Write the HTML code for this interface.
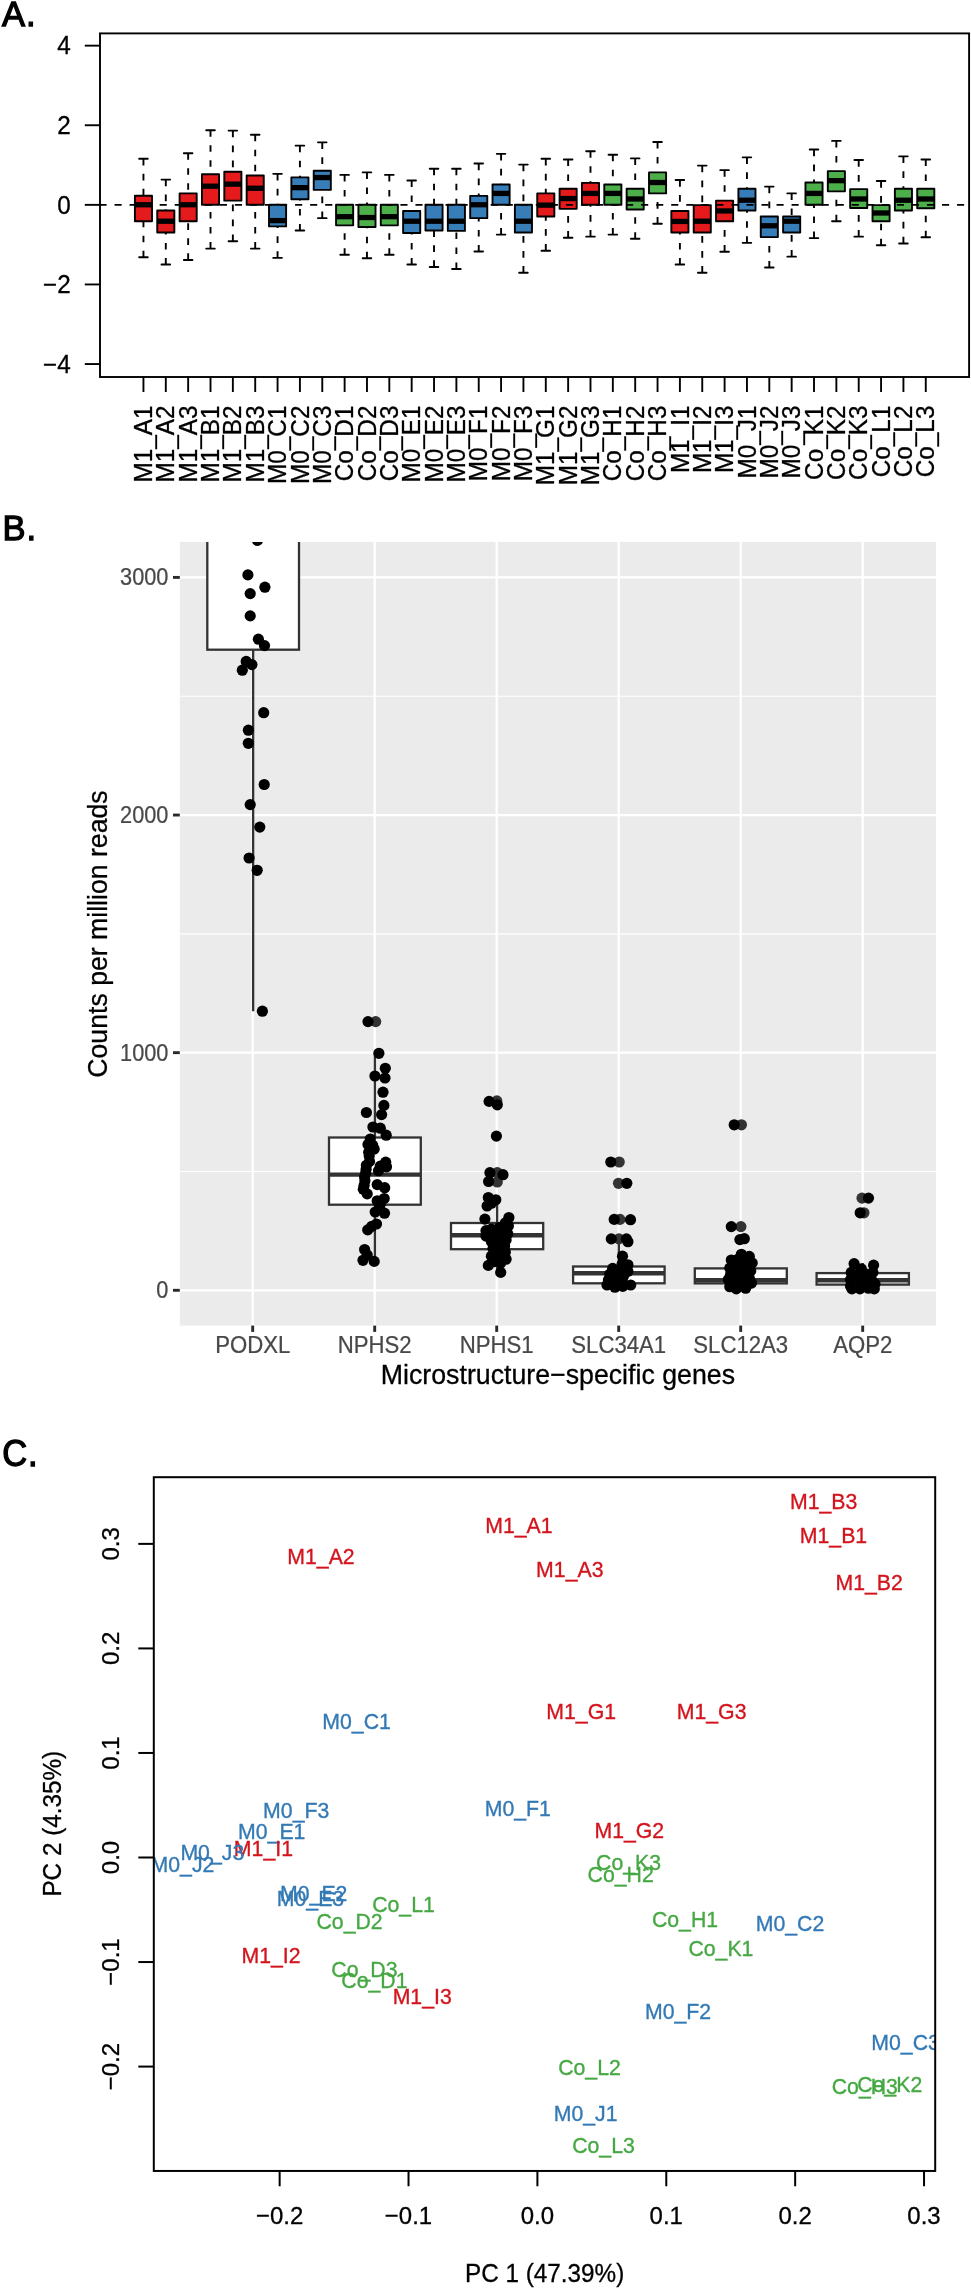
<!DOCTYPE html>
<html lang="en">
<head>
<meta charset="utf-8">
<title>Figure: normalisation boxplots, marker gene counts and PCA</title>
<style>
html,body{margin:0;padding:0;background:#fff;}
body{width:971px;height:2289px;overflow:hidden;}
svg{display:block;will-change:transform;}
#panelA>text,#panelC>text,#panelB>text.tt{stroke:#000;stroke-width:.3px;}
#panelB>text.tk{stroke:#484848;stroke-width:.25px;}
#panelA>text.pl,#panelB>text.pl,#panelC>text.pl{font-size:35.6px;stroke:#000;stroke-width:1.3px;letter-spacing:1px;stroke-linejoin:miter;}
</style>
</head>
<body>
<svg width="971" height="2289" viewBox="0 0 971 2289">
<rect width="971" height="2289" fill="#fff"/>
<g id="panelA" font-family='"Liberation Sans", Arial, Helvetica, sans-serif'>
<text class="pl" transform="translate(1.9 26.25) scale(0.97 1)">A.</text>
<g fill="none" stroke="#000" stroke-width="1.9"><path d="M143.45 158.82V195.68M143.45 257.27V221.23" stroke-dasharray="6.6 8.4"/><path d="M139.15 158.82h8.6M139.15 257.27h8.6" stroke-linecap="round"/><rect x="134.9" y="195.68" width="17.1" height="25.54" fill="#E41A1C" stroke-linejoin="round"/><path d="M134.9 204.75h17.1" stroke-width="5.3"/></g>
<g fill="none" stroke="#000" stroke-width="1.9"><path d="M165.8 179.62V210.51M165.8 264.48V232.55" stroke-dasharray="6.6 8.4"/><path d="M161.5 179.62h8.6M161.5 264.48h8.6" stroke-linecap="round"/><rect x="157.25" y="210.51" width="17.1" height="22.04" fill="#E41A1C" stroke-linejoin="round"/><path d="M157.25 221.23h17.1" stroke-width="5.3"/></g>
<g fill="none" stroke="#000" stroke-width="1.9"><path d="M188.15 153.25V193.42M188.15 259.95V221.23" stroke-dasharray="6.6 8.4"/><path d="M183.85 153.25h8.6M183.85 259.95h8.6" stroke-linecap="round"/><rect x="179.6" y="193.42" width="17.1" height="27.81" fill="#E41A1C" stroke-linejoin="round"/><path d="M179.6 204.75h17.1" stroke-width="5.3"/></g>
<g fill="none" stroke="#000" stroke-width="1.9"><path d="M210.51 130.19V174.26M210.51 248.62V204.75" stroke-dasharray="6.6 8.4"/><path d="M206.21 130.19h8.6M206.21 248.62h8.6" stroke-linecap="round"/><rect x="201.96" y="174.26" width="17.1" height="30.48" fill="#E41A1C" stroke-linejoin="round"/><path d="M201.96 186.21h17.1" stroke-width="5.3"/></g>
<g fill="none" stroke="#000" stroke-width="1.9"><path d="M232.86 130.6V171.79M232.86 241.2V200.63" stroke-dasharray="6.6 8.4"/><path d="M228.56 130.6h8.6M228.56 241.2h8.6" stroke-linecap="round"/><rect x="224.31" y="171.79" width="17.1" height="28.84" fill="#E41A1C" stroke-linejoin="round"/><path d="M224.31 184.15h17.1" stroke-width="5.3"/></g>
<g fill="none" stroke="#000" stroke-width="1.9"><path d="M255.21 134.72V175.5M255.21 248.62V204.75" stroke-dasharray="6.6 8.4"/><path d="M250.91 134.72h8.6M250.91 248.62h8.6" stroke-linecap="round"/><rect x="246.66" y="175.5" width="17.1" height="29.25" fill="#E41A1C" stroke-linejoin="round"/><path d="M246.66 188.27h17.1" stroke-width="5.3"/></g>
<g fill="none" stroke="#000" stroke-width="1.9"><path d="M277.56 173.85V204.75M277.56 257.89V226.37" stroke-dasharray="6.6 8.4"/><path d="M273.26 173.85h8.6M273.26 257.89h8.6" stroke-linecap="round"/><rect x="269.01" y="204.75" width="17.1" height="21.63" fill="#377EB8" stroke-linejoin="round"/><path d="M269.01 220.61h17.1" stroke-width="5.3"/></g>
<g fill="none" stroke="#000" stroke-width="1.9"><path d="M299.91 145.63V177.35M299.91 230.49V199.19" stroke-dasharray="6.6 8.4"/><path d="M295.61 145.63h8.6M295.61 230.49h8.6" stroke-linecap="round"/><rect x="291.36" y="177.35" width="17.1" height="21.83" fill="#377EB8" stroke-linejoin="round"/><path d="M291.36 187.65h17.1" stroke-width="5.3"/></g>
<g fill="none" stroke="#000" stroke-width="1.9"><path d="M322.27 142.34V170.76M322.27 218.14V189.92" stroke-dasharray="6.6 8.4"/><path d="M317.97 142.34h8.6M317.97 218.14h8.6" stroke-linecap="round"/><rect x="313.72" y="170.76" width="17.1" height="19.16" fill="#377EB8" stroke-linejoin="round"/><path d="M313.72 177.56h17.1" stroke-width="5.3"/></g>
<g fill="none" stroke="#000" stroke-width="1.9"><path d="M344.62 174.88V204.75M344.62 254.8V225.35" stroke-dasharray="6.6 8.4"/><path d="M340.32 174.88h8.6M340.32 254.8h8.6" stroke-linecap="round"/><rect x="336.07" y="204.75" width="17.1" height="20.6" fill="#4DAF4A" stroke-linejoin="round"/><path d="M336.07 216.69h17.1" stroke-width="5.3"/></g>
<g fill="none" stroke="#000" stroke-width="1.9"><path d="M366.97 172.41V204.75M366.97 258.3V226.99" stroke-dasharray="6.6 8.4"/><path d="M362.67 172.41h8.6M362.67 258.3h8.6" stroke-linecap="round"/><rect x="358.42" y="204.75" width="17.1" height="22.25" fill="#4DAF4A" stroke-linejoin="round"/><path d="M358.42 217.52h17.1" stroke-width="5.3"/></g>
<g fill="none" stroke="#000" stroke-width="1.9"><path d="M389.32 174.88V204.75M389.32 254.8V225.35" stroke-dasharray="6.6 8.4"/><path d="M385.02 174.88h8.6M385.02 254.8h8.6" stroke-linecap="round"/><rect x="380.77" y="204.75" width="17.1" height="20.6" fill="#4DAF4A" stroke-linejoin="round"/><path d="M380.77 216.69h17.1" stroke-width="5.3"/></g>
<g fill="none" stroke="#000" stroke-width="1.9"><path d="M411.67 180.44V210.93M411.67 264.48V232.97" stroke-dasharray="6.6 8.4"/><path d="M407.37 180.44h8.6M407.37 264.48h8.6" stroke-linecap="round"/><rect x="403.12" y="210.93" width="17.1" height="22.04" fill="#377EB8" stroke-linejoin="round"/><path d="M403.12 221.23h17.1" stroke-width="5.3"/></g>
<g fill="none" stroke="#000" stroke-width="1.9"><path d="M434.03 168.7V204.75M434.03 266.95V230.49" stroke-dasharray="6.6 8.4"/><path d="M429.73 168.7h8.6M429.73 266.95h8.6" stroke-linecap="round"/><rect x="425.48" y="204.75" width="17.1" height="25.75" fill="#377EB8" stroke-linejoin="round"/><path d="M425.48 221.23h17.1" stroke-width="5.3"/></g>
<g fill="none" stroke="#000" stroke-width="1.9"><path d="M456.38 168.7V204.75M456.38 269.01V230.91" stroke-dasharray="6.6 8.4"/><path d="M452.08 168.7h8.6M452.08 269.01h8.6" stroke-linecap="round"/><rect x="447.83" y="204.75" width="17.1" height="26.16" fill="#377EB8" stroke-linejoin="round"/><path d="M447.83 221.23h17.1" stroke-width="5.3"/></g>
<g fill="none" stroke="#000" stroke-width="1.9"><path d="M478.73 163.55V195.89M478.73 251.5V218.14" stroke-dasharray="6.6 8.4"/><path d="M474.43 163.55h8.6M474.43 251.5h8.6" stroke-linecap="round"/><rect x="470.18" y="195.89" width="17.1" height="22.25" fill="#377EB8" stroke-linejoin="round"/><path d="M470.18 204.75h17.1" stroke-width="5.3"/></g>
<g fill="none" stroke="#000" stroke-width="1.9"><path d="M501.08 153.87V184.56M501.08 234.61V204.75" stroke-dasharray="6.6 8.4"/><path d="M496.78 153.87h8.6M496.78 234.61h8.6" stroke-linecap="round"/><rect x="492.53" y="184.56" width="17.1" height="20.19" fill="#377EB8" stroke-linejoin="round"/><path d="M492.53 193.42h17.1" stroke-width="5.3"/></g>
<g fill="none" stroke="#000" stroke-width="1.9"><path d="M523.43 164.58V204.75M523.43 272.72V232.55" stroke-dasharray="6.6 8.4"/><path d="M519.13 164.58h8.6M519.13 272.72h8.6" stroke-linecap="round"/><rect x="514.88" y="204.75" width="17.1" height="27.81" fill="#377EB8" stroke-linejoin="round"/><path d="M514.88 221.23h17.1" stroke-width="5.3"/></g>
<g fill="none" stroke="#000" stroke-width="1.9"><path d="M545.79 158.82V193.42M545.79 250.68V216.49" stroke-dasharray="6.6 8.4"/><path d="M541.49 158.82h8.6M541.49 250.68h8.6" stroke-linecap="round"/><rect x="537.24" y="193.42" width="17.1" height="23.07" fill="#E41A1C" stroke-linejoin="round"/><path d="M537.24 205.16h17.1" stroke-width="5.3"/></g>
<g fill="none" stroke="#000" stroke-width="1.9"><path d="M568.14 159.43V188.68M568.14 237.7V208.87" stroke-dasharray="6.6 8.4"/><path d="M563.84 159.43h8.6M563.84 237.7h8.6" stroke-linecap="round"/><rect x="559.59" y="188.68" width="17.1" height="20.19" fill="#E41A1C" stroke-linejoin="round"/><path d="M559.59 198.57h17.1" stroke-width="5.3"/></g>
<g fill="none" stroke="#000" stroke-width="1.9"><path d="M590.49 151.19V182.91M590.49 236.67V204.75" stroke-dasharray="6.6 8.4"/><path d="M586.19 151.19h8.6M586.19 236.67h8.6" stroke-linecap="round"/><rect x="581.94" y="182.91" width="17.1" height="21.83" fill="#E41A1C" stroke-linejoin="round"/><path d="M581.94 193.42h17.1" stroke-width="5.3"/></g>
<g fill="none" stroke="#000" stroke-width="1.9"><path d="M612.84 154.7V184.56M612.84 234.61V204.75" stroke-dasharray="6.6 8.4"/><path d="M608.54 154.7h8.6M608.54 234.61h8.6" stroke-linecap="round"/><rect x="604.29" y="184.56" width="17.1" height="20.19" fill="#4DAF4A" stroke-linejoin="round"/><path d="M604.29 193.42h17.1" stroke-width="5.3"/></g>
<g fill="none" stroke="#000" stroke-width="1.9"><path d="M635.19 158.4V188.68M635.19 238.73V209.49" stroke-dasharray="6.6 8.4"/><path d="M630.89 158.4h8.6M630.89 238.73h8.6" stroke-linecap="round"/><rect x="626.64" y="188.68" width="17.1" height="20.8" fill="#4DAF4A" stroke-linejoin="round"/><path d="M626.64 198.98h17.1" stroke-width="5.3"/></g>
<g fill="none" stroke="#000" stroke-width="1.9"><path d="M657.55 141.93V172.41M657.55 223.7V193.42" stroke-dasharray="6.6 8.4"/><path d="M653.25 141.93h8.6M653.25 223.7h8.6" stroke-linecap="round"/><rect x="649" y="172.41" width="17.1" height="21.01" fill="#4DAF4A" stroke-linejoin="round"/><path d="M649 182.5h17.1" stroke-width="5.3"/></g>
<g fill="none" stroke="#000" stroke-width="1.9"><path d="M679.9 180.03V210.93M679.9 264.48V232.55" stroke-dasharray="6.6 8.4"/><path d="M675.6 180.03h8.6M675.6 264.48h8.6" stroke-linecap="round"/><rect x="671.35" y="210.93" width="17.1" height="21.63" fill="#E41A1C" stroke-linejoin="round"/><path d="M671.35 221.43h17.1" stroke-width="5.3"/></g>
<g fill="none" stroke="#000" stroke-width="1.9"><path d="M702.25 165.61V205.16M702.25 272.72V232.55" stroke-dasharray="6.6 8.4"/><path d="M697.95 165.61h8.6M697.95 272.72h8.6" stroke-linecap="round"/><rect x="693.7" y="205.16" width="17.1" height="27.39" fill="#E41A1C" stroke-linejoin="round"/><path d="M693.7 221.23h17.1" stroke-width="5.3"/></g>
<g fill="none" stroke="#000" stroke-width="1.9"><path d="M724.6 170.14V200.63M724.6 251.71V221.23" stroke-dasharray="6.6 8.4"/><path d="M720.3 170.14h8.6M720.3 251.71h8.6" stroke-linecap="round"/><rect x="716.05" y="200.63" width="17.1" height="20.6" fill="#E41A1C" stroke-linejoin="round"/><path d="M716.05 210.93h17.1" stroke-width="5.3"/></g>
<g fill="none" stroke="#000" stroke-width="1.9"><path d="M746.95 157.37V188.68M746.95 242.85V210.51" stroke-dasharray="6.6 8.4"/><path d="M742.65 157.37h8.6M742.65 242.85h8.6" stroke-linecap="round"/><rect x="738.4" y="188.68" width="17.1" height="21.83" fill="#377EB8" stroke-linejoin="round"/><path d="M738.4 200.22h17.1" stroke-width="5.3"/></g>
<g fill="none" stroke="#000" stroke-width="1.9"><path d="M769.31 186.62V216.49M769.31 267.57V237.09" stroke-dasharray="6.6 8.4"/><path d="M765.01 186.62h8.6M765.01 267.57h8.6" stroke-linecap="round"/><rect x="760.76" y="216.49" width="17.1" height="20.6" fill="#377EB8" stroke-linejoin="round"/><path d="M760.76 225.76h17.1" stroke-width="5.3"/></g>
<g fill="none" stroke="#000" stroke-width="1.9"><path d="M791.66 193.42V216.49M791.66 256.65V232.55" stroke-dasharray="6.6 8.4"/><path d="M787.36 193.42h8.6M787.36 256.65h8.6" stroke-linecap="round"/><rect x="783.11" y="216.49" width="17.1" height="16.07" fill="#377EB8" stroke-linejoin="round"/><path d="M783.11 221.23h17.1" stroke-width="5.3"/></g>
<g fill="none" stroke="#000" stroke-width="1.9"><path d="M814.01 149.55V182.5M814.01 238.12V204.75" stroke-dasharray="6.6 8.4"/><path d="M809.71 149.55h8.6M809.71 238.12h8.6" stroke-linecap="round"/><rect x="805.46" y="182.5" width="17.1" height="22.25" fill="#4DAF4A" stroke-linejoin="round"/><path d="M805.46 193.42h17.1" stroke-width="5.3"/></g>
<g fill="none" stroke="#000" stroke-width="1.9"><path d="M836.36 140.9V171.17M836.36 221.23V191.36" stroke-dasharray="6.6 8.4"/><path d="M832.06 140.9h8.6M832.06 221.23h8.6" stroke-linecap="round"/><rect x="827.81" y="171.17" width="17.1" height="20.19" fill="#4DAF4A" stroke-linejoin="round"/><path d="M827.81 180.65h17.1" stroke-width="5.3"/></g>
<g fill="none" stroke="#000" stroke-width="1.9"><path d="M858.71 160.05V189.09M858.71 236.67V208.04" stroke-dasharray="6.6 8.4"/><path d="M854.41 160.05h8.6M854.41 236.67h8.6" stroke-linecap="round"/><rect x="850.16" y="189.09" width="17.1" height="18.95" fill="#4DAF4A" stroke-linejoin="round"/><path d="M850.16 198.98h17.1" stroke-width="5.3"/></g>
<g fill="none" stroke="#000" stroke-width="1.9"><path d="M881.07 181.06V205.16M881.07 245.32V221.23" stroke-dasharray="6.6 8.4"/><path d="M876.77 181.06h8.6M876.77 245.32h8.6" stroke-linecap="round"/><rect x="872.52" y="205.16" width="17.1" height="16.07" fill="#4DAF4A" stroke-linejoin="round"/><path d="M872.52 212.99h17.1" stroke-width="5.3"/></g>
<g fill="none" stroke="#000" stroke-width="1.9"><path d="M903.42 156.34V188.68M903.42 243.47V210.51" stroke-dasharray="6.6 8.4"/><path d="M899.12 156.34h8.6M899.12 243.47h8.6" stroke-linecap="round"/><rect x="894.87" y="188.68" width="17.1" height="21.83" fill="#4DAF4A" stroke-linejoin="round"/><path d="M894.87 200.22h17.1" stroke-width="5.3"/></g>
<g fill="none" stroke="#000" stroke-width="1.9"><path d="M925.77 159.43V188.68M925.77 237.29V208.25" stroke-dasharray="6.6 8.4"/><path d="M921.47 159.43h8.6M921.47 237.29h8.6" stroke-linecap="round"/><rect x="917.22" y="188.68" width="17.1" height="19.57" fill="#4DAF4A" stroke-linejoin="round"/><path d="M917.22 198.98h17.1" stroke-width="5.3"/></g>
<path d="M99.5 204.85H968.6" stroke="#000" stroke-width="1.9" stroke-dasharray="7.1 7.945" fill="none"/>
<rect x="100" y="33.4" width="869.1" height="343.6" fill="none" stroke="#000" stroke-width="1.9"/>
<path d="M84.8 45.65H100" stroke="#000" stroke-width="1.9"/>
<text transform="translate(70.8 54.35) scale(0.976 1)" font-size="24.9" text-anchor="end">4</text>
<path d="M84.8 125.25H100" stroke="#000" stroke-width="1.9"/>
<text transform="translate(70.8 133.95) scale(0.976 1)" font-size="24.9" text-anchor="end">2</text>
<path d="M84.8 204.85H100" stroke="#000" stroke-width="1.9"/>
<text transform="translate(70.8 213.55) scale(0.976 1)" font-size="24.9" text-anchor="end">0</text>
<path d="M84.8 284.45H100" stroke="#000" stroke-width="1.9"/>
<text transform="translate(70.8 293.15) scale(0.976 1)" font-size="24.9" text-anchor="end">−2</text>
<path d="M84.8 364.05H100" stroke="#000" stroke-width="1.9"/>
<text transform="translate(70.8 372.75) scale(0.976 1)" font-size="24.9" text-anchor="end">−4</text>
<path d="M143.45 377V392" stroke="#000" stroke-width="1.9"/>
<text transform="translate(152.05 405.6) rotate(-90) scale(0.976 1)" font-size="24.9" text-anchor="end">M1_A1</text>
<path d="M165.8 377V392" stroke="#000" stroke-width="1.9"/>
<text transform="translate(174.4 405.6) rotate(-90) scale(0.976 1)" font-size="24.9" text-anchor="end">M1_A2</text>
<path d="M188.15 377V392" stroke="#000" stroke-width="1.9"/>
<text transform="translate(196.75 405.6) rotate(-90) scale(0.976 1)" font-size="24.9" text-anchor="end">M1_A3</text>
<path d="M210.51 377V392" stroke="#000" stroke-width="1.9"/>
<text transform="translate(219.11 405.6) rotate(-90) scale(0.976 1)" font-size="24.9" text-anchor="end">M1_B1</text>
<path d="M232.86 377V392" stroke="#000" stroke-width="1.9"/>
<text transform="translate(241.46 405.6) rotate(-90) scale(0.976 1)" font-size="24.9" text-anchor="end">M1_B2</text>
<path d="M255.21 377V392" stroke="#000" stroke-width="1.9"/>
<text transform="translate(263.81 405.6) rotate(-90) scale(0.976 1)" font-size="24.9" text-anchor="end">M1_B3</text>
<path d="M277.56 377V392" stroke="#000" stroke-width="1.9"/>
<text transform="translate(286.16 405.6) rotate(-90) scale(0.976 1)" font-size="24.9" text-anchor="end">M0_C1</text>
<path d="M299.91 377V392" stroke="#000" stroke-width="1.9"/>
<text transform="translate(308.51 405.6) rotate(-90) scale(0.976 1)" font-size="24.9" text-anchor="end">M0_C2</text>
<path d="M322.27 377V392" stroke="#000" stroke-width="1.9"/>
<text transform="translate(330.87 405.6) rotate(-90) scale(0.976 1)" font-size="24.9" text-anchor="end">M0_C3</text>
<path d="M344.62 377V392" stroke="#000" stroke-width="1.9"/>
<text transform="translate(353.22 405.6) rotate(-90) scale(0.976 1)" font-size="24.9" text-anchor="end">Co_D1</text>
<path d="M366.97 377V392" stroke="#000" stroke-width="1.9"/>
<text transform="translate(375.57 405.6) rotate(-90) scale(0.976 1)" font-size="24.9" text-anchor="end">Co_D2</text>
<path d="M389.32 377V392" stroke="#000" stroke-width="1.9"/>
<text transform="translate(397.92 405.6) rotate(-90) scale(0.976 1)" font-size="24.9" text-anchor="end">Co_D3</text>
<path d="M411.67 377V392" stroke="#000" stroke-width="1.9"/>
<text transform="translate(420.27 405.6) rotate(-90) scale(0.976 1)" font-size="24.9" text-anchor="end">M0_E1</text>
<path d="M434.03 377V392" stroke="#000" stroke-width="1.9"/>
<text transform="translate(442.63 405.6) rotate(-90) scale(0.976 1)" font-size="24.9" text-anchor="end">M0_E2</text>
<path d="M456.38 377V392" stroke="#000" stroke-width="1.9"/>
<text transform="translate(464.98 405.6) rotate(-90) scale(0.976 1)" font-size="24.9" text-anchor="end">M0_E3</text>
<path d="M478.73 377V392" stroke="#000" stroke-width="1.9"/>
<text transform="translate(487.33 405.6) rotate(-90) scale(0.976 1)" font-size="24.9" text-anchor="end">M0_F1</text>
<path d="M501.08 377V392" stroke="#000" stroke-width="1.9"/>
<text transform="translate(509.68 405.6) rotate(-90) scale(0.976 1)" font-size="24.9" text-anchor="end">M0_F2</text>
<path d="M523.43 377V392" stroke="#000" stroke-width="1.9"/>
<text transform="translate(532.03 405.6) rotate(-90) scale(0.976 1)" font-size="24.9" text-anchor="end">M0_F3</text>
<path d="M545.79 377V392" stroke="#000" stroke-width="1.9"/>
<text transform="translate(554.39 405.6) rotate(-90) scale(0.976 1)" font-size="24.9" text-anchor="end">M1_G1</text>
<path d="M568.14 377V392" stroke="#000" stroke-width="1.9"/>
<text transform="translate(576.74 405.6) rotate(-90) scale(0.976 1)" font-size="24.9" text-anchor="end">M1_G2</text>
<path d="M590.49 377V392" stroke="#000" stroke-width="1.9"/>
<text transform="translate(599.09 405.6) rotate(-90) scale(0.976 1)" font-size="24.9" text-anchor="end">M1_G3</text>
<path d="M612.84 377V392" stroke="#000" stroke-width="1.9"/>
<text transform="translate(621.44 405.6) rotate(-90) scale(0.976 1)" font-size="24.9" text-anchor="end">Co_H1</text>
<path d="M635.19 377V392" stroke="#000" stroke-width="1.9"/>
<text transform="translate(643.79 405.6) rotate(-90) scale(0.976 1)" font-size="24.9" text-anchor="end">Co_H2</text>
<path d="M657.55 377V392" stroke="#000" stroke-width="1.9"/>
<text transform="translate(666.15 405.6) rotate(-90) scale(0.976 1)" font-size="24.9" text-anchor="end">Co_H3</text>
<path d="M679.9 377V392" stroke="#000" stroke-width="1.9"/>
<text transform="translate(688.5 405.6) rotate(-90) scale(0.976 1)" font-size="24.9" text-anchor="end">M1_I1</text>
<path d="M702.25 377V392" stroke="#000" stroke-width="1.9"/>
<text transform="translate(710.85 405.6) rotate(-90) scale(0.976 1)" font-size="24.9" text-anchor="end">M1_I2</text>
<path d="M724.6 377V392" stroke="#000" stroke-width="1.9"/>
<text transform="translate(733.2 405.6) rotate(-90) scale(0.976 1)" font-size="24.9" text-anchor="end">M1_I3</text>
<path d="M746.95 377V392" stroke="#000" stroke-width="1.9"/>
<text transform="translate(755.55 405.6) rotate(-90) scale(0.976 1)" font-size="24.9" text-anchor="end">M0_J1</text>
<path d="M769.31 377V392" stroke="#000" stroke-width="1.9"/>
<text transform="translate(777.91 405.6) rotate(-90) scale(0.976 1)" font-size="24.9" text-anchor="end">M0_J2</text>
<path d="M791.66 377V392" stroke="#000" stroke-width="1.9"/>
<text transform="translate(800.26 405.6) rotate(-90) scale(0.976 1)" font-size="24.9" text-anchor="end">M0_J3</text>
<path d="M814.01 377V392" stroke="#000" stroke-width="1.9"/>
<text transform="translate(822.61 405.6) rotate(-90) scale(0.976 1)" font-size="24.9" text-anchor="end">Co_K1</text>
<path d="M836.36 377V392" stroke="#000" stroke-width="1.9"/>
<text transform="translate(844.96 405.6) rotate(-90) scale(0.976 1)" font-size="24.9" text-anchor="end">Co_K2</text>
<path d="M858.71 377V392" stroke="#000" stroke-width="1.9"/>
<text transform="translate(867.31 405.6) rotate(-90) scale(0.976 1)" font-size="24.9" text-anchor="end">Co_K3</text>
<path d="M881.07 377V392" stroke="#000" stroke-width="1.9"/>
<text transform="translate(889.67 405.6) rotate(-90) scale(0.976 1)" font-size="24.9" text-anchor="end">Co_L1</text>
<path d="M903.42 377V392" stroke="#000" stroke-width="1.9"/>
<text transform="translate(912.02 405.6) rotate(-90) scale(0.976 1)" font-size="24.9" text-anchor="end">Co_L2</text>
<path d="M925.77 377V392" stroke="#000" stroke-width="1.9"/>
<text transform="translate(934.37 405.6) rotate(-90) scale(0.976 1)" font-size="24.9" text-anchor="end">Co_L3</text>
</g>
<g id="panelB" font-family='"Liberation Sans", Arial, Helvetica, sans-serif'>
<text class="pl" transform="translate(2.6 540.15) scale(0.97 1)">B.</text>
<clipPath id="clipB"><rect x="179.8" y="541.9" width="756.2" height="783.7"/></clipPath>
<rect x="179.8" y="541.9" width="756.2" height="783.7" fill="#EBEBEB"/>
<path d="M179.8 1171.48H936" stroke="#fff" stroke-width="1.15"/>
<path d="M179.8 933.86H936" stroke="#fff" stroke-width="1.15"/>
<path d="M179.8 696.22H936" stroke="#fff" stroke-width="1.15"/>
<path d="M179.8 1290.3H936" stroke="#fff" stroke-width="2.3"/>
<path d="M179.8 1052.67H936" stroke="#fff" stroke-width="2.3"/>
<path d="M179.8 815.04H936" stroke="#fff" stroke-width="2.3"/>
<path d="M179.8 577.41H936" stroke="#fff" stroke-width="2.3"/>
<path d="M252.7 541.9V1325.6" stroke="#fff" stroke-width="2.3"/>
<path d="M374.7 541.9V1325.6" stroke="#fff" stroke-width="2.3"/>
<path d="M496.7 541.9V1325.6" stroke="#fff" stroke-width="2.3"/>
<path d="M618.7 541.9V1325.6" stroke="#fff" stroke-width="2.3"/>
<path d="M740.7 541.9V1325.6" stroke="#fff" stroke-width="2.3"/>
<path d="M862.7 541.9V1325.6" stroke="#fff" stroke-width="2.3"/>
<g clip-path="url(#clipB)">
<g stroke="#333" fill="none" stroke-width="2.3"><path d="M253.15 400V400M253.15 649.7V1011.2"/><rect x="207.3" y="400" width="91.7" height="249.7" fill="#fff"/><path d="M207.3 500H299" stroke-width="4.4"/></g>
<g stroke="#333" fill="none" stroke-width="2.3"><path d="M374.9 1053.3V1137.5M374.9 1204.7V1261"/><rect x="329" y="1137.5" width="91.8" height="67.2" fill="#fff"/><path d="M329 1174.6H420.8" stroke-width="4.4"/></g>
<g stroke="#333" fill="none" stroke-width="2.3"><path d="M497.1 1203V1223M497.1 1249.2V1272"/><rect x="451" y="1223" width="92.2" height="26.2" fill="#fff"/><path d="M451 1235.3H543.2" stroke-width="4.4"/></g>
<g stroke="#333" fill="none" stroke-width="2.3"><path d="M618.85 1238.9V1266.5M618.85 1283.3V1288.5"/><rect x="573.1" y="1266.5" width="91.5" height="16.8" fill="#fff"/><path d="M573.1 1273.2H664.6" stroke-width="4.4"/></g>
<g stroke="#333" fill="none" stroke-width="2.3"><path d="M740.8 1254V1268.4M740.8 1283.4V1289"/><rect x="694.8" y="1268.4" width="92" height="15" fill="#fff"/><path d="M694.8 1280.2H786.8" stroke-width="4.4"/></g>
<g stroke="#333" fill="none" stroke-width="2.3"><path d="M862.75 1263V1273.1M862.75 1284.6V1289"/><rect x="816.6" y="1273.1" width="92.3" height="11.5" fill="#fff"/><path d="M816.6 1280.3H908.9" stroke-width="4.4"/></g>
<g fill="#333"><circle cx="375.7" cy="1021.6" r="5.6"/><circle cx="496.8" cy="1100.9" r="5.6"/><circle cx="497.3" cy="1172.7" r="5.6"/><circle cx="497.3" cy="1182" r="5.6"/><circle cx="619.2" cy="1162" r="5.6"/><circle cx="618.5" cy="1183.3" r="5.6"/><circle cx="619.9" cy="1219.4" r="5.6"/><circle cx="618.9" cy="1238.9" r="5.6"/><circle cx="741.4" cy="1124.8" r="5.6"/><circle cx="740.9" cy="1226.6" r="5.6"/><circle cx="862" cy="1198.1" r="5.6"/><circle cx="863.9" cy="1212.8" r="5.6"/></g>
<g fill="#000"><circle cx="257.5" cy="540.3" r="5.6"/><circle cx="247.9" cy="574.9" r="5.6"/><circle cx="264.9" cy="587.2" r="5.6"/><circle cx="250.2" cy="593.6" r="5.6"/><circle cx="250.2" cy="615.9" r="5.6"/><circle cx="258.4" cy="639.2" r="5.6"/><circle cx="264.5" cy="645.6" r="5.6"/><circle cx="246.2" cy="661.4" r="5.6"/><circle cx="251.9" cy="664.6" r="5.6"/><circle cx="242.3" cy="670.2" r="5.6"/><circle cx="263.7" cy="712.7" r="5.6"/><circle cx="248.4" cy="730.2" r="5.6"/><circle cx="248.3" cy="743.3" r="5.6"/><circle cx="264.2" cy="784.5" r="5.6"/><circle cx="250.2" cy="804.6" r="5.6"/><circle cx="259.8" cy="827.1" r="5.6"/><circle cx="249.1" cy="858" r="5.6"/><circle cx="257.2" cy="870.3" r="5.6"/><circle cx="262.4" cy="1011.2" r="5.6"/><circle cx="368" cy="1021.6" r="5.6"/><circle cx="378.9" cy="1053.3" r="5.6"/><circle cx="385.3" cy="1068.3" r="5.6"/><circle cx="374.9" cy="1076" r="5.6"/><circle cx="385" cy="1078" r="5.6"/><circle cx="383" cy="1092.2" r="5.6"/><circle cx="383.9" cy="1105.4" r="5.6"/><circle cx="366.4" cy="1112.5" r="5.6"/><circle cx="381.6" cy="1114.6" r="5.6"/><circle cx="372.9" cy="1127" r="5.6"/><circle cx="380.3" cy="1128.2" r="5.6"/><circle cx="386.2" cy="1135.2" r="5.6"/><circle cx="370.3" cy="1139" r="5.6"/><circle cx="368" cy="1144.4" r="5.6"/><circle cx="374.2" cy="1149.1" r="5.6"/><circle cx="369.2" cy="1156" r="5.6"/><circle cx="385.7" cy="1162.2" r="5.6"/><circle cx="366.4" cy="1165.3" r="5.6"/><circle cx="386.5" cy="1166.8" r="5.6"/><circle cx="380.3" cy="1166.1" r="5.6"/><circle cx="378.5" cy="1170.7" r="5.6"/><circle cx="365.7" cy="1173" r="5.6"/><circle cx="364.9" cy="1180.7" r="5.6"/><circle cx="377.2" cy="1184.6" r="5.6"/><circle cx="384.7" cy="1187.7" r="5.6"/><circle cx="363.3" cy="1189.2" r="5.6"/><circle cx="367.2" cy="1193.9" r="5.6"/><circle cx="384.2" cy="1198.5" r="5.6"/><circle cx="377.2" cy="1200.8" r="5.6"/><circle cx="379.6" cy="1207" r="5.6"/><circle cx="375.2" cy="1212" r="5.6"/><circle cx="384.5" cy="1213.2" r="5.6"/><circle cx="376.5" cy="1224" r="5.6"/><circle cx="371.8" cy="1226.3" r="5.6"/><circle cx="367.7" cy="1229.9" r="5.6"/><circle cx="364.6" cy="1249.5" r="5.6"/><circle cx="367.2" cy="1254.9" r="5.6"/><circle cx="363" cy="1260.3" r="5.6"/><circle cx="374.2" cy="1261.4" r="5.6"/><circle cx="368.7" cy="1152.2" r="5.6"/><circle cx="366.1" cy="1169.2" r="5.6"/><circle cx="364.6" cy="1176.9" r="5.6"/><circle cx="364.1" cy="1185.4" r="5.6"/><circle cx="369.5" cy="1161.4" r="5.6"/><circle cx="372.6" cy="1145.2" r="5.6"/><circle cx="380.3" cy="1203.9" r="5.6"/><circle cx="489.1" cy="1101.4" r="5.6"/><circle cx="497.3" cy="1104.8" r="5.6"/><circle cx="496.4" cy="1136.1" r="5.6"/><circle cx="489.9" cy="1172.7" r="5.6"/><circle cx="503" cy="1174.7" r="5.6"/><circle cx="488.6" cy="1181.5" r="5.6"/><circle cx="488.3" cy="1197.5" r="5.6"/><circle cx="495.8" cy="1199.8" r="5.6"/><circle cx="487.1" cy="1206" r="5.6"/><circle cx="491.4" cy="1203.2" r="5.6"/><circle cx="484.9" cy="1219.1" r="5.6"/><circle cx="508.9" cy="1217.5" r="5.6"/><circle cx="505.3" cy="1222.9" r="5.6"/><circle cx="508.4" cy="1226" r="5.6"/><circle cx="486" cy="1230.7" r="5.6"/><circle cx="491.4" cy="1229.1" r="5.6"/><circle cx="499.2" cy="1227.6" r="5.6"/><circle cx="503.8" cy="1230.7" r="5.6"/><circle cx="507.7" cy="1233.8" r="5.6"/><circle cx="486" cy="1236.1" r="5.6"/><circle cx="493" cy="1235.3" r="5.6"/><circle cx="499.2" cy="1236.1" r="5.6"/><circle cx="506.1" cy="1239.9" r="5.6"/><circle cx="491.4" cy="1241.5" r="5.6"/><circle cx="498.4" cy="1243" r="5.6"/><circle cx="504.6" cy="1246.1" r="5.6"/><circle cx="493" cy="1248.4" r="5.6"/><circle cx="499.2" cy="1250" r="5.6"/><circle cx="505.3" cy="1252.3" r="5.6"/><circle cx="491.4" cy="1256.2" r="5.6"/><circle cx="497.6" cy="1256.9" r="5.6"/><circle cx="506.1" cy="1259.2" r="5.6"/><circle cx="488.3" cy="1265.4" r="5.6"/><circle cx="494.5" cy="1261.6" r="5.6"/><circle cx="500.7" cy="1263.1" r="5.6"/><circle cx="500.7" cy="1272.4" r="5.6"/><circle cx="610.8" cy="1162" r="5.6"/><circle cx="626.8" cy="1183.3" r="5.6"/><circle cx="614.2" cy="1219.4" r="5.6"/><circle cx="630.5" cy="1219.7" r="5.6"/><circle cx="611.3" cy="1238.9" r="5.6"/><circle cx="626.4" cy="1238.9" r="5.6"/><circle cx="627.9" cy="1241.7" r="5.6"/><circle cx="622.5" cy="1256.2" r="5.6"/><circle cx="627.9" cy="1264.8" r="5.6"/><circle cx="622.1" cy="1264.1" r="5.6"/><circle cx="612.7" cy="1268.4" r="5.6"/><circle cx="619.2" cy="1270.6" r="5.6"/><circle cx="627.9" cy="1271.3" r="5.6"/><circle cx="609.8" cy="1274.2" r="5.6"/><circle cx="616.3" cy="1275.6" r="5.6"/><circle cx="623.5" cy="1276.3" r="5.6"/><circle cx="608.4" cy="1279.9" r="5.6"/><circle cx="614.9" cy="1280.7" r="5.6"/><circle cx="622.1" cy="1281.4" r="5.6"/><circle cx="607" cy="1285" r="5.6"/><circle cx="614.9" cy="1287.2" r="5.6"/><circle cx="622.8" cy="1286.4" r="5.6"/><circle cx="630.7" cy="1285" r="5.6"/><circle cx="734.2" cy="1124.8" r="5.6"/><circle cx="731.3" cy="1226.6" r="5.6"/><circle cx="739.9" cy="1239.6" r="5.6"/><circle cx="744.3" cy="1238.7" r="5.6"/><circle cx="741.4" cy="1254.3" r="5.6"/><circle cx="749.3" cy="1256.4" r="5.6"/><circle cx="731.3" cy="1260" r="5.6"/><circle cx="737.8" cy="1259.3" r="5.6"/><circle cx="752.2" cy="1262.9" r="5.6"/><circle cx="746.4" cy="1264.4" r="5.6"/><circle cx="729.8" cy="1268" r="5.6"/><circle cx="740.6" cy="1265.8" r="5.6"/><circle cx="750.7" cy="1270.9" r="5.6"/><circle cx="743.5" cy="1272.3" r="5.6"/><circle cx="730.6" cy="1274.5" r="5.6"/><circle cx="728.4" cy="1279.5" r="5.6"/><circle cx="735.6" cy="1278.8" r="5.6"/><circle cx="742.1" cy="1279.5" r="5.6"/><circle cx="749.3" cy="1278.1" r="5.6"/><circle cx="751.5" cy="1283.1" r="5.6"/><circle cx="729.8" cy="1286.7" r="5.6"/><circle cx="736.3" cy="1288.9" r="5.6"/><circle cx="745.7" cy="1288.2" r="5.6"/><circle cx="740.6" cy="1286" r="5.6"/><circle cx="736" cy="1268" r="5.6"/><circle cx="742" cy="1262" r="5.6"/><circle cx="734" cy="1272.5" r="5.6"/><circle cx="747" cy="1270" r="5.6"/><circle cx="739" cy="1275" r="5.6"/><circle cx="745" cy="1283.5" r="5.6"/><circle cx="733.5" cy="1283" r="5.6"/><circle cx="868.5" cy="1198.1" r="5.6"/><circle cx="860.2" cy="1212.8" r="5.6"/><circle cx="854.1" cy="1263.7" r="5.6"/><circle cx="873.6" cy="1265.2" r="5.6"/><circle cx="861.3" cy="1268.8" r="5.6"/><circle cx="851.2" cy="1272.4" r="5.6"/><circle cx="872.9" cy="1272.4" r="5.6"/><circle cx="865.6" cy="1273.8" r="5.6"/><circle cx="857" cy="1276.7" r="5.6"/><circle cx="850.5" cy="1279.6" r="5.6"/><circle cx="862.8" cy="1280.3" r="5.6"/><circle cx="871.4" cy="1279.6" r="5.6"/><circle cx="875" cy="1283.9" r="5.6"/><circle cx="850.5" cy="1286.1" r="5.6"/><circle cx="858.4" cy="1286.8" r="5.6"/><circle cx="867.1" cy="1285.3" r="5.6"/><circle cx="851.9" cy="1288.9" r="5.6"/><circle cx="859.9" cy="1288.9" r="5.6"/><circle cx="874.3" cy="1288.9" r="5.6"/><circle cx="868.5" cy="1288.2" r="5.6"/></g>
</g>
<path d="M173 1290.3H179.8" stroke="#2a2a2a" stroke-width="2.9"/>
<text transform="translate(168.4 1298.3) scale(0.91 1)" class="tk" font-size="23.9" fill="#484848" text-anchor="end">0</text>
<path d="M173 1052.67H179.8" stroke="#2a2a2a" stroke-width="2.9"/>
<text transform="translate(168.4 1060.67) scale(0.91 1)" class="tk" font-size="23.9" fill="#484848" text-anchor="end">1000</text>
<path d="M173 815.04H179.8" stroke="#2a2a2a" stroke-width="2.9"/>
<text transform="translate(168.4 823.04) scale(0.91 1)" class="tk" font-size="23.9" fill="#484848" text-anchor="end">2000</text>
<path d="M173 577.41H179.8" stroke="#2a2a2a" stroke-width="2.9"/>
<text transform="translate(168.4 585.41) scale(0.91 1)" class="tk" font-size="23.9" fill="#484848" text-anchor="end">3000</text>
<path d="M252.7 1325.6V1331.9" stroke="#2a2a2a" stroke-width="2.9"/>
<text transform="translate(252.7 1353.4) scale(0.955 1)" class="tk" font-size="23.2" fill="#484848" text-anchor="middle">PODXL</text>
<path d="M374.7 1325.6V1331.9" stroke="#2a2a2a" stroke-width="2.9"/>
<text transform="translate(374.7 1353.4) scale(0.955 1)" class="tk" font-size="23.2" fill="#484848" text-anchor="middle">NPHS2</text>
<path d="M496.7 1325.6V1331.9" stroke="#2a2a2a" stroke-width="2.9"/>
<text transform="translate(496.7 1353.4) scale(0.955 1)" class="tk" font-size="23.2" fill="#484848" text-anchor="middle">NPHS1</text>
<path d="M618.7 1325.6V1331.9" stroke="#2a2a2a" stroke-width="2.9"/>
<text transform="translate(618.7 1353.4) scale(0.955 1)" class="tk" font-size="23.2" fill="#484848" text-anchor="middle">SLC34A1</text>
<path d="M740.7 1325.6V1331.9" stroke="#2a2a2a" stroke-width="2.9"/>
<text transform="translate(740.7 1353.4) scale(0.955 1)" class="tk" font-size="23.2" fill="#484848" text-anchor="middle">SLC12A3</text>
<path d="M862.7 1325.6V1331.9" stroke="#2a2a2a" stroke-width="2.9"/>
<text transform="translate(862.7 1353.4) scale(0.955 1)" class="tk" font-size="23.2" fill="#484848" text-anchor="middle">AQP2</text>
<text transform="translate(557.9 1384.3) scale(0.955 1)" class="tt" font-size="28" text-anchor="middle">Microstructure−specific genes</text>
<text transform="translate(107 934.05) rotate(-90) scale(0.952 1)" class="tt" font-size="28" text-anchor="middle">Counts per million reads</text>
</g>
<g id="panelC" font-family='"Liberation Sans", Arial, Helvetica, sans-serif'>
<text class="pl" transform="translate(2.2 1465.9) scale(0.97 1.02)">C.</text>
<clipPath id="clipC"><rect x="153.8" y="1477.2" width="781.4" height="693.75"/></clipPath>
<g clip-path="url(#clipC)" font-size="22.4" text-anchor="middle" stroke-width="0.35">
<text transform="translate(518.9 1533.1) scale(0.95 1)" fill="#D3141D" stroke="#D3141D">M1_A1</text>
<text transform="translate(321 1564.4) scale(0.95 1)" fill="#D3141D" stroke="#D3141D">M1_A2</text>
<text transform="translate(569.8 1576.6) scale(0.95 1)" fill="#D3141D" stroke="#D3141D">M1_A3</text>
<text transform="translate(833.5 1543.4) scale(0.95 1)" fill="#D3141D" stroke="#D3141D">M1_B1</text>
<text transform="translate(869.1 1589.9) scale(0.95 1)" fill="#D3141D" stroke="#D3141D">M1_B2</text>
<text transform="translate(823.6 1509.4) scale(0.95 1)" fill="#D3141D" stroke="#D3141D">M1_B3</text>
<text transform="translate(356.6 1728.8) scale(0.95 1)" fill="#3379B5" stroke="#3379B5">M0_C1</text>
<text transform="translate(790 1931.2) scale(0.95 1)" fill="#3379B5" stroke="#3379B5">M0_C2</text>
<text transform="translate(905.6 2050.4) scale(0.95 1)" fill="#3379B5" stroke="#3379B5">M0_C3</text>
<text transform="translate(374.4 1988.3) scale(0.95 1)" fill="#46A843" stroke="#46A843">Co_D1</text>
<text transform="translate(349.6 1929) scale(0.95 1)" fill="#46A843" stroke="#46A843">Co_D2</text>
<text transform="translate(364.4 1977) scale(0.95 1)" fill="#46A843" stroke="#46A843">Co_D3</text>
<text transform="translate(271.7 1838.8) scale(0.95 1)" fill="#3379B5" stroke="#3379B5">M0_E1</text>
<text transform="translate(313.7 1900.8) scale(0.95 1)" fill="#3379B5" stroke="#3379B5">M0_E2</text>
<text transform="translate(310.5 1905.7) scale(0.95 1)" fill="#3379B5" stroke="#3379B5">M0_E3</text>
<text transform="translate(517.8 1816.2) scale(0.95 1)" fill="#3379B5" stroke="#3379B5">M0_F1</text>
<text transform="translate(678.1 2019) scale(0.95 1)" fill="#3379B5" stroke="#3379B5">M0_F2</text>
<text transform="translate(296.2 1817.6) scale(0.95 1)" fill="#3379B5" stroke="#3379B5">M0_F3</text>
<text transform="translate(581.2 1719.3) scale(0.95 1)" fill="#D3141D" stroke="#D3141D">M1_G1</text>
<text transform="translate(629.3 1837.9) scale(0.95 1)" fill="#D3141D" stroke="#D3141D">M1_G2</text>
<text transform="translate(711.6 1719.3) scale(0.95 1)" fill="#D3141D" stroke="#D3141D">M1_G3</text>
<text transform="translate(685 1927.2) scale(0.95 1)" fill="#46A843" stroke="#46A843">Co_H1</text>
<text transform="translate(620.7 1881.7) scale(0.95 1)" fill="#46A843" stroke="#46A843">Co_H2</text>
<text transform="translate(864.8 2094.4) scale(0.95 1)" fill="#46A843" stroke="#46A843">Co_H3</text>
<text transform="translate(263.4 1856.2) scale(0.95 1)" fill="#D3141D" stroke="#D3141D">M1_I1</text>
<text transform="translate(271 1962.9) scale(0.95 1)" fill="#D3141D" stroke="#D3141D">M1_I2</text>
<text transform="translate(422.2 2004.3) scale(0.95 1)" fill="#D3141D" stroke="#D3141D">M1_I3</text>
<text transform="translate(585.6 2121.3) scale(0.95 1)" fill="#3379B5" stroke="#3379B5">M0_J1</text>
<text transform="translate(182.5 1871.9) scale(0.95 1)" fill="#3379B5" stroke="#3379B5">M0_J2</text>
<text transform="translate(212.3 1860.2) scale(0.95 1)" fill="#3379B5" stroke="#3379B5">M0_J3</text>
<text transform="translate(720.9 1955.9) scale(0.95 1)" fill="#46A843" stroke="#46A843">Co_K1</text>
<text transform="translate(889.7 2092.1) scale(0.95 1)" fill="#46A843" stroke="#46A843">Co_K2</text>
<text transform="translate(628.6 1870.2) scale(0.95 1)" fill="#46A843" stroke="#46A843">Co_K3</text>
<text transform="translate(403.5 1911.5) scale(0.95 1)" fill="#46A843" stroke="#46A843">Co_L1</text>
<text transform="translate(589.5 2075.1) scale(0.95 1)" fill="#46A843" stroke="#46A843">Co_L2</text>
<text transform="translate(603.5 2152.6) scale(0.95 1)" fill="#46A843" stroke="#46A843">Co_L3</text>
</g>
<rect x="153.8" y="1477.2" width="781.4" height="693.75" fill="none" stroke="#000" stroke-width="2.0"/>
<path d="M279.64 2170.95V2186.25" stroke="#000" stroke-width="2.0"/>
<text transform="translate(279.64 2223.7) scale(0.972 1)" font-size="24.7" text-anchor="middle">−0.2</text>
<path d="M138.3 2066.58H153.8" stroke="#000" stroke-width="2.0"/>
<text transform="translate(119.1 2066.58) rotate(-90) scale(0.972 1)" font-size="24.7" text-anchor="middle">−0.2</text>
<path d="M408.52 2170.95V2186.25" stroke="#000" stroke-width="2.0"/>
<text transform="translate(408.52 2223.7) scale(0.972 1)" font-size="24.7" text-anchor="middle">−0.1</text>
<path d="M138.3 1962.04H153.8" stroke="#000" stroke-width="2.0"/>
<text transform="translate(119.1 1962.04) rotate(-90) scale(0.972 1)" font-size="24.7" text-anchor="middle">−0.1</text>
<path d="M537.4 2170.95V2186.25" stroke="#000" stroke-width="2.0"/>
<text transform="translate(537.4 2223.7) scale(0.972 1)" font-size="24.7" text-anchor="middle">0.0</text>
<path d="M138.3 1857.5H153.8" stroke="#000" stroke-width="2.0"/>
<text transform="translate(119.1 1857.5) rotate(-90) scale(0.972 1)" font-size="24.7" text-anchor="middle">0.0</text>
<path d="M666.28 2170.95V2186.25" stroke="#000" stroke-width="2.0"/>
<text transform="translate(666.28 2223.7) scale(0.972 1)" font-size="24.7" text-anchor="middle">0.1</text>
<path d="M138.3 1752.96H153.8" stroke="#000" stroke-width="2.0"/>
<text transform="translate(119.1 1752.96) rotate(-90) scale(0.972 1)" font-size="24.7" text-anchor="middle">0.1</text>
<path d="M795.16 2170.95V2186.25" stroke="#000" stroke-width="2.0"/>
<text transform="translate(795.16 2223.7) scale(0.972 1)" font-size="24.7" text-anchor="middle">0.2</text>
<path d="M138.3 1648.42H153.8" stroke="#000" stroke-width="2.0"/>
<text transform="translate(119.1 1648.42) rotate(-90) scale(0.972 1)" font-size="24.7" text-anchor="middle">0.2</text>
<path d="M924.04 2170.95V2186.25" stroke="#000" stroke-width="2.0"/>
<text transform="translate(924.04 2223.7) scale(0.972 1)" font-size="24.7" text-anchor="middle">0.3</text>
<path d="M138.3 1543.88H153.8" stroke="#000" stroke-width="2.0"/>
<text transform="translate(119.1 1543.88) rotate(-90) scale(0.972 1)" font-size="24.7" text-anchor="middle">0.3</text>
<text transform="translate(544.6 2282) scale(0.964 1)" font-size="25.2" text-anchor="middle">PC 1 (47.39%)</text>
<text transform="translate(60.8 1823.7) rotate(-90) scale(0.964 1)" font-size="25.2" text-anchor="middle">PC 2 (4.35%)</text>
</g>
</svg>
</body>
</html>
